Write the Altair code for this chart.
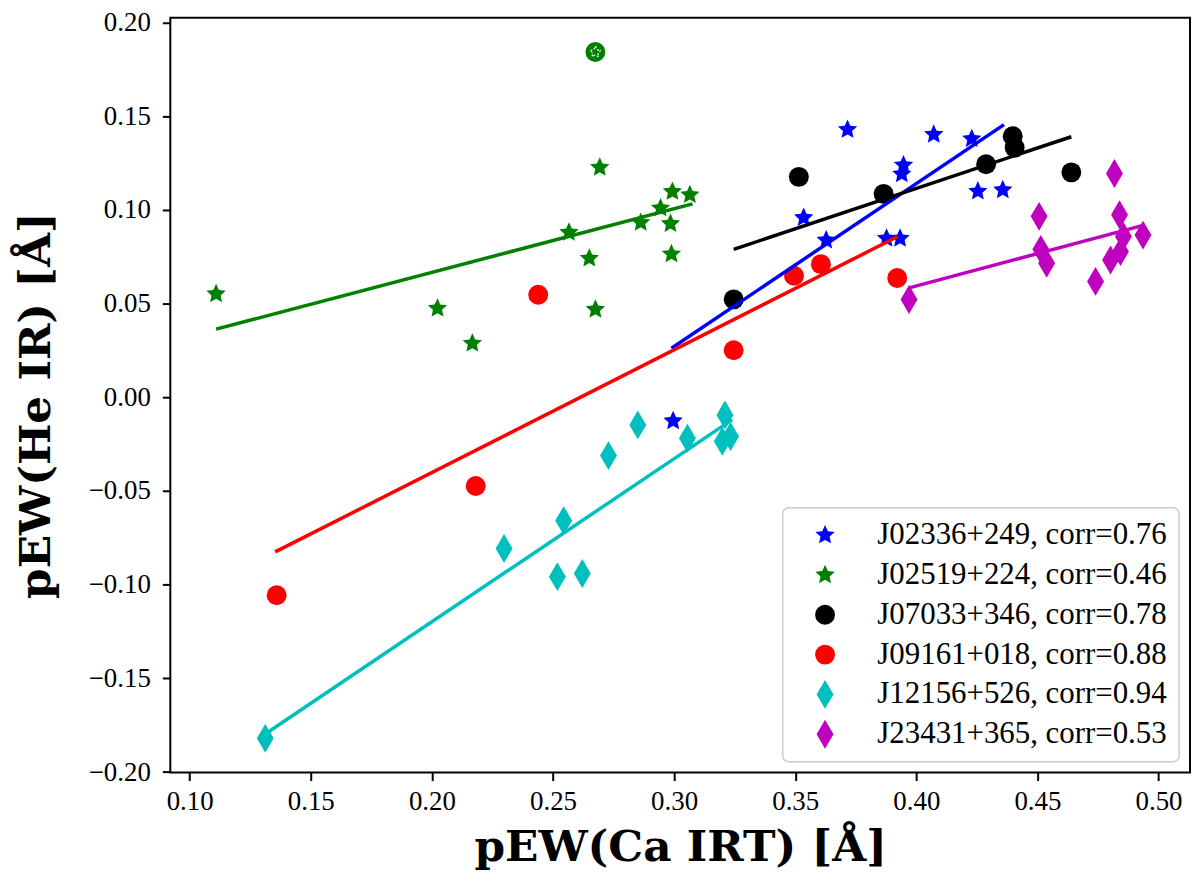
import altair as alt
import pandas as pd

# ---------------- data ----------------
labels = ["J02336+249, corr=0.76", "J02519+224, corr=0.46", "J07033+346, corr=0.78",
          "J09161+018, corr=0.88", "J12156+526, corr=0.94", "J23431+365, corr=0.53"]
colors = ["#0000ff", "#008000", "#000000", "#ff0000", "#00bfbf", "#bf00bf"]

blue_x = [0.3716, 0.4072, 0.4229, 0.3947, 0.3940, 0.3535, 0.3628, 0.3877, 0.3933, 0.4254, 0.4357, 0.2996]
blue_y = [0.1429, 0.1403, 0.1380, 0.1239, 0.1192, 0.0959, 0.0839, 0.0848, 0.0848, 0.1100, 0.1107, -0.0126]

green_x = [0.1109, 0.2023, 0.2167, 0.2566, 0.2650, 0.2675, 0.2693, 0.2862, 0.2944, 0.2985, 0.2989, 0.2993, 0.3065]
green_y = [0.0552, 0.0475, 0.0288, 0.0880, 0.0742, 0.0469, 0.1227, 0.0933, 0.1010, 0.0927, 0.0765, 0.1098, 0.1081]

black_x = [0.3515, 0.3865, 0.4288, 0.4398, 0.4406, 0.4640, 0.3246]
black_y = [0.1177, 0.1086, 0.1244, 0.1394, 0.1333, 0.1201, 0.0523]

red_x = [0.3495, 0.3606, 0.3921, 0.3246, 0.2439, 0.2181, 0.1359]
red_y = [0.0649, 0.0711, 0.0637, 0.0251, 0.0548, -0.0473, -0.1056]

cyan_x = [0.2850, 0.2729, 0.3055, 0.3210, 0.3199, 0.3233, 0.2544, 0.2298, 0.2518, 0.2621, 0.1312]
cyan_y = [-0.0147, -0.0311, -0.0218, -0.0094, -0.0235, -0.0209, -0.0658, -0.0807, -0.0957, -0.0940, -0.1820]

magenta_x = [0.4818, 0.4507, 0.4839, 0.4514, 0.4538, 0.4855, 0.4936, 0.4843, 0.4802, 0.4740, 0.3970]
magenta_y = [0.1195, 0.0966, 0.0975, 0.0790, 0.0716, 0.0859, 0.0866, 0.0778, 0.0733, 0.0619, 0.0522]

# excluded (circled) point of J02519+224
outlier_x = [0.2675]
outlier_y = [0.1843]

# linear-fit segments (end points), one per series
fit_x0 = [0.2989, 0.1109, 0.3246, 0.1353, 0.1315, 0.3970]
fit_y0 = [0.0262, 0.0364, 0.0790, -0.0825, -0.1794, 0.0584]
fit_x1 = [0.4362, 0.3076, 0.4640, 0.3921, 0.3240, 0.4936]
fit_y1 = [0.1456, 0.1033, 0.1391, 0.0857, -0.0119, 0.0918]

x_ticks = [0.10, 0.15, 0.20, 0.25, 0.30, 0.35, 0.40, 0.45, 0.50]
y_ticks = [-0.20, -0.15, -0.10, -0.05, 0.00, 0.05, 0.10, 0.15, 0.20]

# ---------------- marker shapes ----------------
STAR = ("M0,-1.02L0.282,-0.388L0.970,-0.315L0.456,0.148L0.600,0.825L0,0.48"
        "L-0.600,0.825L-0.456,0.148L-0.970,-0.315L-0.282,-0.388Z")
DIAMOND = "M0,-1.45L0.85,0L0,1.45L-0.85,0Z"
shapes = [STAR, STAR, "circle", "circle", DIAMOND, DIAMOND]

series_x = [blue_x, green_x, black_x, red_x, cyan_x, magenta_x]
series_y = [blue_y, green_y, black_y, red_y, cyan_y, magenta_y]

rows = []
for lab, xs, ys in zip(labels, series_x, series_y):
    for xv, yv in zip(xs, ys):
        rows.append({"series": lab, "x": xv, "y": yv})
df_pts = pd.DataFrame(rows)

fit_rows = []
for lab, a, b, c, d in zip(labels, fit_x0, fit_y0, fit_x1, fit_y1):
    fit_rows.append({"series": lab, "x": a, "y": b})
    fit_rows.append({"series": lab, "x": c, "y": d})
df_fit = pd.DataFrame(fit_rows)

df_out = pd.DataFrame({"x": outlier_x, "y": outlier_y})

SERIF = "Liberation Serif"
TITLE_FONT = "DejaVu Serif"

xscale = alt.Scale(domain=[0.0920, 0.5130], nice=False, zero=False)
yscale = alt.Scale(domain=[-0.2003, 0.2026], nice=False, zero=False)

xaxis = alt.Axis(values=x_ticks, format=".2f", title="pEW(Ca IRT) [Å]", grid=False,
                 domain=False, tickSize=8, tickWidth=2, tickColor="black",
                 labelFont=SERIF, labelFontSize=27, labelColor="black", labelPadding=8,
                 titleFont=TITLE_FONT, titleFontSize=44, titleFontWeight="bold", titleColor="black",
                 titleBaseline="alphabetic", titleY=88)
yaxis = alt.Axis(values=y_ticks, format=".2f", title="pEW(He IR) [Å]", grid=False,
                 domain=False, tickSize=8, tickWidth=2, tickColor="black",
                 labelFont=SERIF, labelFontSize=27, labelColor="black", labelPadding=12,
                 titleFont=TITLE_FONT, titleFontSize=44, titleFontWeight="bold", titleColor="black",
                 titleAngle=-90, titleBaseline="alphabetic", titleX=-121, titleY=389)

points = alt.Chart(df_pts).mark_point(filled=True, opacity=1, size=400, strokeWidth=0).encode(
    x=alt.X("x:Q", scale=xscale, axis=xaxis),
    y=alt.Y("y:Q", scale=yscale, axis=yaxis),
    color=alt.Color("series:N", scale=alt.Scale(domain=labels, range=colors),
                    legend=alt.Legend(title=None)),
    shape=alt.Shape("series:N", scale=alt.Scale(domain=labels, range=shapes),
                    legend=alt.Legend(title=None)),
)

lines = alt.Chart(df_fit).mark_line(strokeWidth=3.5).encode(
    x=alt.X("x:Q", scale=xscale),
    y=alt.Y("y:Q", scale=yscale),
    stroke=alt.Stroke("series:N", scale=alt.Scale(domain=labels, range=colors), legend=None),
    detail="series:N",
)

out_circle = alt.Chart(df_out).mark_point(shape="circle", filled=True, color="#008000",
                                          opacity=1, size=400, strokeWidth=0).encode(
    x=alt.X("x:Q", scale=xscale), y=alt.Y("y:Q", scale=yscale))
out_star = alt.Chart(df_out).mark_point(shape=STAR, filled=False, stroke="white",
                                        strokeWidth=1.2, strokeDash=[2, 2], opacity=1,
                                        size=130).encode(
    x=alt.X("x:Q", scale=xscale), y=alt.Y("y:Q", scale=yscale))

chart = alt.layer(points, lines, out_circle, out_star).properties(
    width=1024, height=758,
    autosize=alt.AutoSizeParams(type="none"),
    padding={"left": 163, "top": 8, "right": 2, "bottom": 100},
).configure_view(
    stroke="black", strokeWidth=2
).configure_legend(
    orient="bottom-right", offset=11, padding=12, rowPadding=8,
    strokeColor="#cccccc", strokeWidth=1.5, cornerRadius=6, fillColor="white",
    labelFont=SERIF, labelFontSize=31, labelColor="black", labelLimit=500,
    symbolOffset=15, labelOffset=37, symbolSize=400, symbolStrokeWidth=0,
)

chart.save("out.html", embed_options={"renderer": "svg", "actions": False})
